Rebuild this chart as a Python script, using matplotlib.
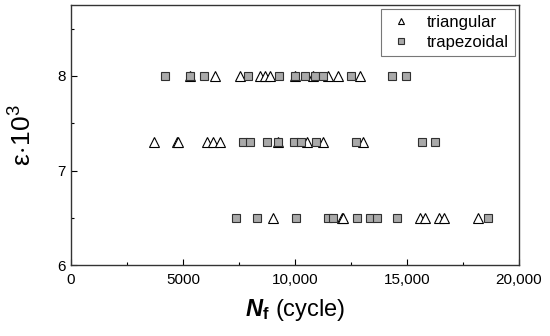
import matplotlib
matplotlib.use("Agg")
import matplotlib.pyplot as plt
from matplotlib.ticker import FixedLocator, FuncFormatter

plt.rcParams['font.family'] = ['Liberation Sans', 'DejaVu Sans']
plt.rcParams['mathtext.fontset'] = 'custom'
plt.rcParams['mathtext.rm'] = 'Liberation Sans'
plt.rcParams['mathtext.it'] = 'Liberation Sans:italic'
plt.rcParams['mathtext.bf'] = 'Liberation Sans:bold'
plt.rcParams['mathtext.bfit'] = 'Liberation Sans:italic:bold'

# Data (cycles to failure, strain x 10^3)
tri_nf_8 = [5300, 6430, 7540, 8440, 8660, 8880, 10000, 10800, 11490, 11930, 12900]
tri_nf_73 = [3720, 4720, 4760, 6060, 6350, 6650, 9260, 10520, 11260, 13020]
tri_nf_65 = [9030, 12100, 12150, 15580, 15800, 16440, 16670, 18160]
sq_nf_8 = [4210, 5310, 5940, 7920, 9300, 10000, 10470, 10890, 11240, 12490, 14340, 14940]
sq_nf_73 = [7690, 7990, 8760, 9260, 9960, 10250, 10940, 12720, 15660, 16250]
sq_nf_65 = [7350, 8320, 10030, 11460, 11710, 12780, 13350, 13650, 14540, 18630]
eps_levels = [8.0, 7.3, 6.5]

x_ticks = [0, 5000, 10000, 15000, 20000]
x_tick_labels = ["0", "5000", "10,000", "15,000", "20,000"]
y_ticks = [6, 7, 8]

fig = plt.figure(figsize=(5.5, 3.36), dpi=100)
ax = fig.add_axes([0.129, 0.211, 0.8146, 0.774])

tri_x = tri_nf_8 + tri_nf_73 + tri_nf_65
tri_y = [eps_levels[0]] * len(tri_nf_8) + [eps_levels[1]] * len(tri_nf_73) + [eps_levels[2]] * len(tri_nf_65)
sq_x = sq_nf_8 + sq_nf_73 + sq_nf_65
sq_y = [eps_levels[0]] * len(sq_nf_8) + [eps_levels[1]] * len(sq_nf_73) + [eps_levels[2]] * len(sq_nf_65)

ax.plot(tri_x, tri_y, linestyle='none', marker='^', markersize=6.5,
        markerfacecolor='white', markeredgecolor='black', markeredgewidth=0.8,
        label='triangular', zorder=2)
ax.plot(sq_x, sq_y, linestyle='none', marker='s', markersize=5.5,
        markerfacecolor='#a9a9a9', markeredgecolor='#303030', markeredgewidth=0.8,
        label='trapezoidal', zorder=3)

ax.set_xlim(0, 20000)
ax.set_ylim(6, 8.75)
ax.xaxis.set_major_locator(FixedLocator(x_ticks))
ax.xaxis.set_major_formatter(FuncFormatter(lambda v, p: x_tick_labels[x_ticks.index(int(round(v)))] if int(round(v)) in x_ticks else ""))
ax.xaxis.set_minor_locator(FixedLocator([2500, 7500, 12500, 17500]))
ax.yaxis.set_major_locator(FixedLocator(y_ticks))
ax.yaxis.set_minor_locator(FixedLocator([6.5, 7.5, 8.5]))

ax.tick_params(which='both', direction='in', top=False, right=False, labelsize=11)
ax.tick_params(axis='x', which='major', pad=6)
ax.tick_params(which='major', length=4, width=0.8)
ax.tick_params(which='minor', length=2.5, width=0.8)
for s in ax.spines.values():
    s.set_linewidth(1.0)
    s.set_color('#333333')

ax.set_xlabel(r'$\mathbfit{N}_{\mathbf{f}}$ (cycle)', fontsize=17, labelpad=7)
ax.set_ylabel(r'$\mathrm{\varepsilon}\!\cdot\!\mathrm{10}^3$', fontsize=19, labelpad=15)

leg = ax.legend(loc='upper right', fontsize=12, frameon=True, fancybox=False,
                edgecolor='#555555', borderpad=0.35, handletextpad=0.7,
                labelspacing=0.3, borderaxespad=0.25, handlelength=1.7,
                markerscale=0.7)
leg.get_frame().set_linewidth(0.8)

fig.savefig('out.png', dpi=100)
